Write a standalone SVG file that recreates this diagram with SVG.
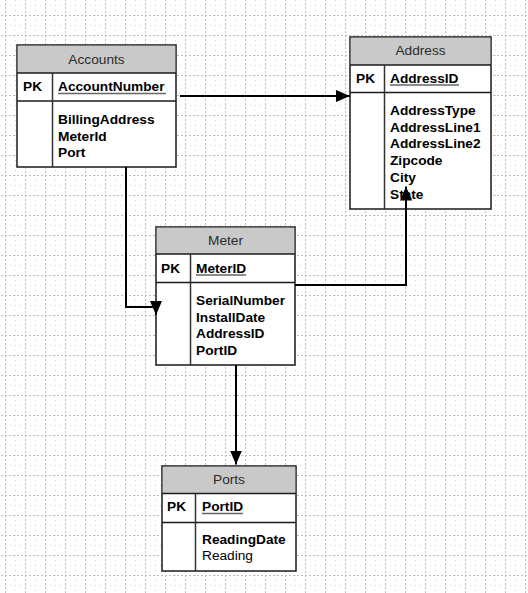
<svg xmlns="http://www.w3.org/2000/svg" width="528" height="593" viewBox="0 0 528 593">
<style>
  text { font-family: "Liberation Sans", Arial, sans-serif; font-size: 13.7px; fill: #000; }
  .hdr { fill: #2a2a2a; text-anchor: middle; font-weight: normal; }
  .b { font-weight: bold; }
  .r { font-weight: normal; }
  .box { fill: #fff; stroke: #1a1a1a; stroke-width: 1.5; }
  .head { fill: #c9c9c9; stroke: none; }
  .sep { stroke: #1a1a1a; stroke-width: 1.5; }
  .div { stroke: #333; stroke-width: 1.5; }
  .ul { stroke: #666; stroke-width: 1.6; }
  .conn { fill: none; stroke: #000; stroke-width: 2; }
</style>
<defs>
  <pattern id="grid" x="5" y="15" width="20" height="20" patternUnits="userSpaceOnUse">
    <line x1="0.5" y1="0" x2="0.5" y2="20" stroke="#bdbdbd" stroke-width="1" stroke-dasharray="2,2"/>
    <line x1="0" y1="0.5" x2="20" y2="0.5" stroke="#bdbdbd" stroke-width="1" stroke-dasharray="2,2"/>
    <line x1="10.5" y1="0" x2="10.5" y2="20" stroke="#d4d4d4" stroke-width="1" stroke-dasharray="1,4"/>
    <line x1="0" y1="10.5" x2="20" y2="10.5" stroke="#d4d4d4" stroke-width="1" stroke-dasharray="1,4"/>
  </pattern>
  <marker id="arr" viewBox="0 0 14 12" refX="14" refY="6" markerWidth="14" markerHeight="12" markerUnits="userSpaceOnUse" orient="auto">
    <path d="M0,0 L14,6 L0,12 z" fill="#000"/>
  </marker>
</defs>
<rect x="0" y="0" width="528" height="593" fill="#fff"/>
<rect x="0" y="0" width="528" height="593" fill="url(#grid)"/>

<g id="accounts">
  <rect class="box" x="17" y="45" width="159" height="122"/>
  <rect class="head" x="17.75" y="45.75" width="157.5" height="27.25"/>
  <line class="sep" x1="17" y1="73" x2="176" y2="73"/>
  <line class="sep" x1="17" y1="101" x2="176" y2="101"/>
  <line class="div" x1="52.5" y1="73" x2="52.5" y2="167"/>
  <text class="hdr" x="96.5" y="63.5">Accounts</text>
  <text class="b" x="23" y="91">PK</text>
  <text class="b" x="58" y="91">AccountNumber</text>
  <line class="ul" x1="58" y1="93.5" x2="166" y2="93.5"/>
  <text class="b" x="58" y="124">BillingAddress</text>
  <text class="b" x="58" y="140.7">MeterId</text>
  <text class="b" x="58" y="157.4">Port</text>
</g>

<g id="address">
  <rect class="box" x="350" y="37" width="141" height="172"/>
  <rect class="head" x="350.75" y="37.75" width="139.5" height="27.25"/>
  <line class="sep" x1="350" y1="65" x2="491" y2="65"/>
  <line class="sep" x1="350" y1="92.5" x2="491" y2="92.5"/>
  <line class="div" x1="384.5" y1="65" x2="384.5" y2="209"/>
  <text class="hdr" x="420.5" y="55">Address</text>
  <text class="b" x="356" y="82.5">PK</text>
  <text class="b" x="390" y="82.5">AddressID</text>
  <line class="ul" x1="390" y1="85" x2="459" y2="85"/>
  <text class="b" x="390" y="115">AddressType</text>
  <text class="b" x="390" y="131.7">AddressLine1</text>
  <text class="b" x="390" y="148.4">AddressLine2</text>
  <text class="b" x="390" y="165.1">Zipcode</text>
  <text class="b" x="390" y="181.8">City</text>
  <text class="b" x="390" y="198.5">State</text>
</g>

<g id="meter">
  <rect class="box" x="156" y="227" width="139" height="138"/>
  <rect class="head" x="156.75" y="227.75" width="137.5" height="26.25"/>
  <line class="sep" x1="156" y1="254" x2="295" y2="254"/>
  <line class="sep" x1="156" y1="282.5" x2="295" y2="282.5"/>
  <line class="div" x1="190.5" y1="254" x2="190.5" y2="365"/>
  <text class="hdr" x="225.5" y="245">Meter</text>
  <text class="b" x="161" y="272.5">PK</text>
  <text class="b" x="196" y="272.5">MeterID</text>
  <line class="ul" x1="196" y1="275" x2="246" y2="275"/>
  <text class="b" x="196" y="305">SerialNumber</text>
  <text class="b" x="196" y="321.7">InstallDate</text>
  <text class="b" x="196" y="338.4">AddressID</text>
  <text class="b" x="196" y="355.1">PortID</text>
</g>

<g id="ports">
  <rect class="box" x="162" y="466" width="134" height="105"/>
  <rect class="head" x="162.75" y="466.75" width="132.5" height="26.5"/>
  <line class="sep" x1="162" y1="493.5" x2="296" y2="493.5"/>
  <line class="sep" x1="162" y1="522.5" x2="296" y2="522.5"/>
  <line class="div" x1="195.5" y1="493.5" x2="195.5" y2="571"/>
  <text class="hdr" x="229" y="483.5">Ports</text>
  <text class="b" x="167" y="511">PK</text>
  <text class="b" x="202" y="511">PortID</text>
  <line class="ul" x1="202" y1="513.5" x2="243" y2="513.5"/>
  <text class="b" x="202" y="543.5">ReadingDate</text>
  <text class="r" x="202" y="560">Reading</text>
</g>

<g id="connectors">
  <path class="conn" d="M180,96 H350" marker-end="url(#arr)"/>
  <path class="conn" d="M126,167 V307 H156 V315" marker-end="url(#arr)"/>
  <path class="conn" d="M295,285 H406 V186.5" marker-end="url(#arr)"/>
  <path class="conn" d="M236,365 V464.5" marker-end="url(#arr)"/>
</g>
</svg>
